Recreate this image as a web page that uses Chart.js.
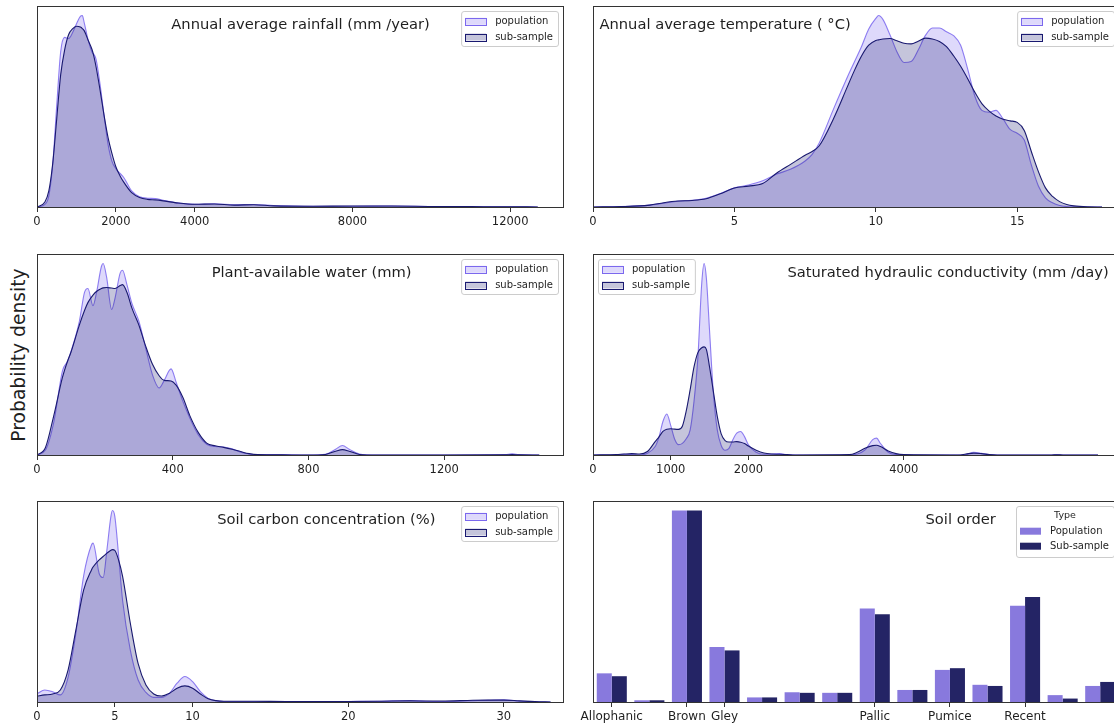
<!DOCTYPE html>
<html>
<head>
<meta charset="utf-8">
<title>Soil and climate covariates: population vs sub-sample</title>
<script src="https://cdn.jsdelivr.net/npm/chart.js@4.4.1/dist/chart.umd.min.js"></script>
<style>
  html, body { margin: 0; padding: 0; background: #fff; overflow: hidden; width: 1114px; height: 726px; }
  canvas { position: absolute; }
  #ylab {
    position: absolute; left: 18px; top: 355px;
    transform: translate(-50%, -50%) rotate(-90deg);
    font: 18.7px "DejaVu Sans", sans-serif; color: #1f1f1f; white-space: nowrap;
  }
</style>
</head>
<body>
<div id="ylab">Probability density</div>
<script>
// ---- series names ----
const kdeNames = ['population', 'sub-sample'];
const barNames = ['Population', 'Sub-sample'];
const barLegendTitle = 'Type';

// ---- annual average rainfall (mm/year), relative density ----
const rainX   = [0,200,300,400,500,600,700,800,900,1000,1100,1150,1200,1300,1400,1450,1500,1600,1700,1800,1900,2000,2100,2200,2400,2600,2800,3000,3200,3500,4000,4500,5000,5500,6000,7000,8000,9000,10000,11000,12000,12700];
const rainPop = [0,1.4,5.8,22.5,53,81,88.6,88,91,95.6,99.6,100,96,87,80.7,79.5,77,64,48,33,24,20,17.7,15.4,8.4,5.4,4.6,4.4,3.5,2.3,1.4,1.7,1.2,1.3,0.8,0.4,0.4,0.5,0.3,0.2,0.1,0];
const rainSub = [0,2.6,8.4,23,46,69,82,90,93,94.4,94,93.2,92,87,82,78,73,61,48,36.5,28,21,16.5,13,7.5,5,4,3.7,3.2,2.3,1.4,1.6,1.0,1.2,0.6,0.4,0.5,0.5,0.3,0.2,0.1,0];
const rainTicks = [0,2000,4000,8000,12000];

// ---- annual average temperature (deg C) ----
const tempX   = [0,1,2,2.5,3,3.5,4,4.5,5,5.5,6,6.5,7,7.5,7.75,8,8.5,9,9.25,9.5,9.75,10,10.1,10.25,10.5,10.75,11,11.25,11.5,11.75,12,12.25,12.5,12.75,13,13.25,13.5,13.75,14,14.25,14.5,14.75,15,15.25,15.5,15.75,16,16.25,16.5,16.75,17,17.5,18];
const tempPop = [0,0.2,1.0,2.0,3.0,3.5,4.6,7.0,10,11.5,13.7,17.2,19.8,24,27.5,33.5,51,68,76,84,93,98.5,100,98,90,81,75.5,76,82,89.5,93.5,93.5,91.5,89.5,84.5,72,58,50.5,49.5,50.5,46,40.5,38.5,35,22,11,4.8,2.2,0.8,0.2,0.05,0,0];
const tempSub = [0,0.2,1.0,2.2,3.1,3.4,4.3,6.9,9.9,10.9,12.3,17.8,22.4,27,29,32,46,63,71.5,79,84.5,87,87.3,87.8,88,86.8,85.5,85.2,86.6,88.2,87.8,86.5,83.8,79,73.5,67,60,54,50.2,47.5,45.8,45,44.2,40,29,18.5,10,5.5,2.8,1.3,0.6,0.1,0];
const tempTicks = [0,5,10,15];

// ---- plant-available water (mm) ----
const pawX   = [0,25,50,75,90,100,125,140,150,165,175,190,195,205,220,230,245,252,265,280,300,320,340,360,375,395,410,430,450,475,500,525,550,575,600,625,650,700,750,800,850,880,900,920,950,1000,1200,1380,1400,1420,1480];
const pawPop = [0,2.6,17.6,44,49,54,70,85,87,78,84.5,98.6,100,93,76,82,95,96.5,89,79,70,56,42,35,39,45,38,28,19.4,10.6,5.6,4.4,4.2,3.2,1.4,0.5,0.2,0.3,0.1,0,0.4,3,5,3,0.5,0,0,0.2,0.6,0.2,0];
const pawSub = [0,3.9,21,40.5,49,53.7,68,75.5,79.6,83.5,85.4,87,87.3,87.5,87.2,87,88.5,89,85,76.6,68,57,47.5,41.4,39,38.7,36.5,30,20.7,11.8,6.2,4.8,4,3,1.8,0.7,0.2,0.1,0,0,0.3,2,2.8,2,0.3,0,0,0.1,0.2,0.1,0];
const pawTicks = [0,400,800,1200];

// ---- saturated hydraulic conductivity (mm/day) ----
const ksatX   = [0,300,400,500,600,700,800,850,900,950,1000,1050,1100,1150,1200,1250,1300,1350,1400,1430,1460,1500,1550,1600,1650,1700,1750,1800,1850,1900,1950,2000,2100,2200,2300,2400,2500,2600,3300,3400,3500,3600,3650,3700,3800,3900,4000,4700,4800,4900,5000,5100,5200,5900,5970,6050,6500];
const ksatPop = [0,0,0.4,0.2,0,0.9,4.4,9.5,17.5,21.4,15.5,8.4,5.4,6.1,8.5,13,28,51,90,100,92,65,32,13,5,2.5,3.5,8,11.4,12.3,9.6,5.3,1.4,0.4,0.5,0.7,0.2,0,0,0.5,2.6,8,8.8,6,1.4,0.2,0,0,0.3,1.4,0.9,0.2,0,0,0.25,0,0];
const ksatSub = [0,0.2,0.5,0.7,0.5,1.8,7,9.5,12.3,13.5,13.7,13.5,13.4,15,23,34,46,53.5,56,56.5,55,46,33,20,11,7.5,6.8,6.8,7,6.7,6,4.7,2.5,1,0.5,0.4,0.2,0,0.2,1.4,3.5,4.9,5.1,4.4,2.1,0.7,0.2,0,0.5,1.0,0.7,0.2,0,0,0.1,0,0];
const ksatTicks = [0,1000,2000,4000];

// ---- soil carbon concentration (%) ----
const carbonX   = [0,0.5,1,1.5,2,2.5,3,3.5,3.6,4,4.25,4.5,4.75,4.85,5,5.25,5.5,6,6.5,7,7.5,8,8.5,9,9.5,10,10.5,11,11.5,12,14,16,18,20,22,24,25,26,28,29,30,31,32,33];
const carbonPop = [4.2,6.3,5.4,3.7,13,36,66,82,83,67,65,80,97,100,97,76,53,27,11.5,5,2.4,2.4,4.5,9.8,13.3,10.6,5.4,1.9,0.7,0.3,0.3,0.2,0.2,0.3,0.4,0.8,0.4,0.3,0.7,0.9,1.2,0.5,0.1,0];
const carbonSub = [3.1,3.7,4.2,6.3,16.8,37.7,58.6,69,70.5,74.3,76,77.8,79.3,79.6,79.2,74,65.6,41,20,8.9,4.2,3.1,4.5,7.2,8.4,7.2,4.2,1.7,0.7,0.4,0.4,0.3,0.3,0.3,0.4,0.6,0.5,0.5,0.9,1.0,1.0,0.6,0.2,0];
const carbonTicks = [0,5,10,20,30];

// ---- soil order shares (%) ----
const soilOrders = ['Allophanic','Anthropic','Brown','Gley','Granular','Melanic','Organic','Pallic','Podzol','Pumice','Raw','Recent','Semiarid','Ultic'];
const soilTickLabels = ['Allophanic','','Brown','Gley','','','','Pallic','','Pumice','','Recent','',''];
const soilPop = [5.0,0.3,33.4,9.6,0.8,1.7,1.6,16.3,2.1,5.6,3.0,16.8,1.2,2.8];
const soilSub = [4.5,0.3,33.4,9.0,0.8,1.6,1.6,15.3,2.1,5.9,2.8,18.3,0.6,3.5];

// ---- styling ----
const FONT = '"DejaVu Sans", sans-serif';
const TEXT = '#1f1f1f';
const SPINE = '#333333';
const popLine = 'rgba(123,104,238,0.85)';
const popFill = 'rgba(123,104,238,0.25)';
const subLine = 'rgb(25,25,112)';
const subFill = 'rgba(25,25,112,0.25)';
const barPopColor = 'rgb(136,121,221)';
const barSubColor = 'rgb(36,36,101)';

// plot-area placement of each panel (page pixels)
const PLOT_W = 526, PLOT_H = 201;
const PAD = { left: 30, right: 30, top: 8, bottom: 2 };
const AXIS_H = 28;

const kdePanels = [
  { x: rainX,   pop: rainPop,   sub: rainSub,   ticks: rainTicks,   xmax: 13340, left: 37,  top: 6,
    title: 'Annual average rainfall (mm /year)',          titleX: 0.501, legendSide: 'right' },
  { x: tempX,   pop: tempPop,   sub: tempSub,   ticks: tempTicks,   xmax: 18.6,  left: 593, top: 6,
    title: 'Annual average temperature ( \u00B0C)',       titleX: 0.251, legendSide: 'right' },
  { x: pawX,    pop: pawPop,    sub: pawSub,    ticks: pawTicks,    xmax: 1550,  left: 37,  top: 254,
    title: 'Plant-available water (mm)',                  titleX: 0.522, legendSide: 'right' },
  { x: ksatX,   pop: ksatPop,   sub: ksatSub,   ticks: ksatTicks,   xmax: 6770,  left: 593, top: 254,
    title: 'Saturated hydraulic conductivity (mm /day)',  titleX: 0.675, legendSide: 'left' },
  { x: carbonX, pop: carbonPop, sub: carbonSub, ticks: carbonTicks, xmax: 33.8,  left: 37,  top: 501,
    title: 'Soil carbon concentration (%)',               titleX: 0.55,  legendSide: 'right' }
];
const barPanel = { left: 593, top: 501, title: 'Soil order', titleX: 0.699 };

// frame around the axes, panel caption and legend box
const decorPlugin = {
  id: 'decor',
  afterDraw(chart, args, opts) {
    const { ctx, chartArea: a } = chart;
    ctx.save();
    // axes frame
    ctx.strokeStyle = SPINE;
    ctx.lineWidth = 1;
    ctx.strokeRect(Math.round(a.left) + 0.5, Math.round(a.top) + 0.5,
                   Math.round(a.right - a.left), Math.round(a.bottom - a.top));
    // caption
    ctx.fillStyle = TEXT;
    ctx.font = '14.7px ' + FONT;
    ctx.textAlign = 'center';
    ctx.textBaseline = 'middle';
    ctx.fillText(opts.title, a.left + (a.right - a.left) * opts.titleX, a.top + 19);
    // legend
    const L = opts.legend;
    ctx.font = '10px ' + FONT;
    const textW = Math.max(...L.entries.map(e => ctx.measureText(e.label).width));
    const padL = 4, handleW = 21, handleH = 7, gap = 9, padR = 5;
    const w = padL + handleW + gap + textW + padR;
    const h = L.title ? 51 : 35;
    const x0 = L.side === 'right' ? a.right - 5 - w : a.left + 5;
    const y0 = a.top + 5;
    ctx.beginPath();
    ctx.roundRect(x0 + 0.5, y0 + 0.5, w, h, 2.5);
    ctx.fillStyle = 'rgba(255,255,255,0.8)';
    ctx.fill();
    ctx.strokeStyle = '#cccccc';
    ctx.stroke();
    let rowY = y0 + 10.3;
    if (L.title) {
      ctx.fillStyle = TEXT;
      ctx.font = '9.5px ' + FONT;
      ctx.textAlign = 'center';
      ctx.fillText(L.title, x0 + w / 2, y0 + 9.7);
      ctx.font = '10px ' + FONT;
      rowY = y0 + 25.2;
    }
    L.entries.forEach((e, i) => {
      const cy = rowY + i * (L.title ? 15 : 15.7);
      ctx.fillStyle = e.fill;
      ctx.fillRect(x0 + padL, cy - handleH / 2, handleW, handleH);
      if (e.stroke) {
        ctx.strokeStyle = e.stroke;
        ctx.lineWidth = 1;
        ctx.strokeRect(Math.round(x0 + padL) + 0.5, Math.round(cy - handleH / 2) + 0.5, handleW, handleH);
      }
      ctx.fillStyle = TEXT;
      ctx.textAlign = 'left';
      ctx.textBaseline = 'middle';
      ctx.fillText(e.label, x0 + padL + handleW + gap, cy + 0.5);
    });
    ctx.restore();
  }
};

function makeCanvas(p) {
  const c = document.createElement('canvas');
  c.width = PLOT_W + PAD.left + PAD.right;
  c.height = PLOT_H + PAD.top + PAD.bottom + AXIS_H;
  c.style.left = (p.left - PAD.left) + 'px';
  c.style.top = (p.top - PAD.top) + 'px';
  document.body.appendChild(c);
  return c;
}

const baseOptions = {
  responsive: false,
  devicePixelRatio: 1,
  animation: false,
  events: [],
  layout: { padding: PAD }
};

function xAxisCommon(fontSize) {
  return {
    ticks: { font: { family: FONT, size: fontSize }, color: TEXT, padding: 3, maxRotation: 0, autoSkip: false },
    grid: { drawOnChartArea: false, drawTicks: true, tickLength: 5, color: SPINE, lineWidth: 1 },
    border: { display: false },
    afterFit: s => { s.height = AXIS_H; }
  };
}

kdePanels.forEach(p => {
  const ymax = Math.max(...p.pop, ...p.sub) * 1.05;
  const xa = xAxisCommon(11.5);
  new Chart(makeCanvas(p), {
    type: 'line',
    data: {
      datasets: [
        { label: kdeNames[1], data: p.x.map((x, i) => ({ x, y: p.sub[i] })),
          borderColor: subLine, backgroundColor: subFill, borderWidth: 1.1,
          fill: 'origin', pointRadius: 0, cubicInterpolationMode: 'monotone' },
        { label: kdeNames[0], data: p.x.map((x, i) => ({ x, y: p.pop[i] })),
          borderColor: popLine, backgroundColor: popFill, borderWidth: 1.1,
          fill: 'origin', pointRadius: 0, cubicInterpolationMode: 'monotone' }
      ]
    },
    options: {
      ...baseOptions,
      scales: {
        x: { type: 'linear', min: 0, max: p.xmax, ...xa,
             ticks: { ...xa.ticks, callback: v => String(v) },
             afterBuildTicks: s => { s.ticks = p.ticks.map(v => ({ value: v })); } },
        y: { display: false, min: 0, max: ymax }
      },
      plugins: {
        legend: { display: false },
        tooltip: { enabled: false },
        decor: {
          title: p.title, titleX: p.titleX,
          legend: { side: p.legendSide, entries: [
            { label: kdeNames[0], fill: popFill, stroke: 'rgb(123,104,238)' },
            { label: kdeNames[1], fill: subFill, stroke: subLine }
          ] }
        }
      }
    },
    plugins: [decorPlugin]
  });
});

// soil order bars
(() => {
  const ymax = Math.max(...soilPop, ...soilSub) * 1.05;
  const xa = xAxisCommon(12);
  new Chart(makeCanvas(barPanel), {
    type: 'bar',
    data: {
      labels: soilOrders,
      datasets: [
        { label: barNames[0], data: soilPop, backgroundColor: barPopColor,
          barPercentage: 1.0, categoryPercentage: 0.8 },
        { label: barNames[1], data: soilSub, backgroundColor: barSubColor,
          barPercentage: 1.0, categoryPercentage: 0.8 }
      ]
    },
    options: {
      ...baseOptions,
      scales: {
        x: { type: 'category', offset: true, ...xa,
             ticks: { ...xa.ticks, callback: (v, i) => soilTickLabels[i] },
             grid: { ...xa.grid, offset: false,
                     color: c => soilTickLabels[c.index] ? SPINE : 'rgba(0,0,0,0)' } },
        y: { display: false, min: 0, max: ymax }
      },
      plugins: {
        legend: { display: false },
        tooltip: { enabled: false },
        decor: {
          title: barPanel.title, titleX: barPanel.titleX,
          legend: { side: 'right', title: barLegendTitle, entries: [
            { label: barNames[0], fill: barPopColor },
            { label: barNames[1], fill: barSubColor }
          ] }
        }
      }
    },
    plugins: [decorPlugin]
  });
})();
</script>
</body>
</html>
